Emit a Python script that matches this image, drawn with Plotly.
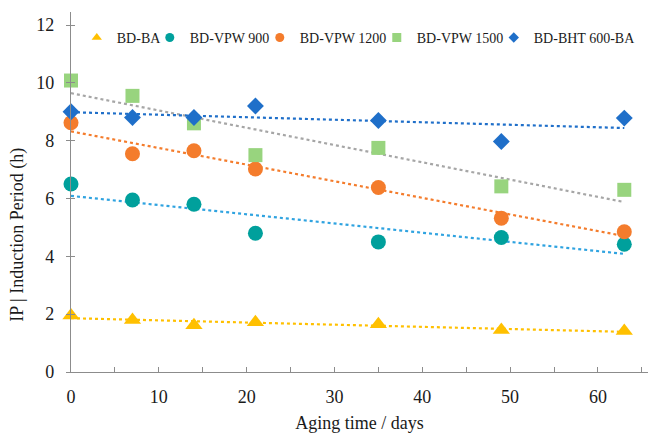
import numpy as np
import plotly.graph_objects as go

days = [0, 7, 14, 21, 35, 49, 63]
series_names = ["BD-BA", "BD-VPW 900", "BD-VPW 1200", "BD-VPW 1500", "BD-BHT 600-BA"]
bd_ba = [1.95, 1.80, 1.62, 1.72, 1.65, 1.45, 1.42]
bd_vpw900 = [6.50, 5.95, 5.80, 4.80, 4.50, 4.65, 4.42]
bd_vpw1200 = [8.62, 7.55, 7.65, 7.02, 6.38, 5.32, 4.85]
bd_vpw1500 = [10.08, 9.55, 8.60, 7.50, 7.75, 6.42, 6.30]
bd_bht600 = [9.00, 8.80, 8.80, 9.20, 8.70, 7.97, 8.78]

x_tickvals = list(range(0, 66, 5))
x_ticktext = [str(v) if v % 10 == 0 else "" for v in x_tickvals]
y_tickvals = [0, 2, 4, 6, 8, 10, 12]

values = [bd_ba, bd_vpw900, bd_vpw1200, bd_vpw1500, bd_bht600]
marker_colors = ["#FFC000", "#00A09C", "#F47C2C", "#98D47E", "#1F6FC9"]
trend_colors = ["#FFC000", "#2FA3E0", "#F47C2C", "#A6A6A6", "#1F6FC9"]
symbols = ["triangle-up", "circle", "circle", "square", "diamond"]
sizes = [15, 15, 15, 14, 13]
legend_sizes = [9, 9, 9, 9, 8]
legend_widths = [28, 65, 72, 72, 104]

FONT = "Liberation Serif"
TXT = "#1a1a1a"

fig = go.Figure()

xs = np.array(days, dtype=float)
for vals, tc in zip(values, trend_colors):
    m, b = np.polyfit(xs, np.array(vals), 1)
    xl = np.array([days[0], days[-1]], dtype=float)
    fig.add_trace(go.Scatter(x=xl, y=m * xl + b, mode="lines",
                             line=dict(color=tc, width=2.2, dash="dot"),
                             showlegend=False, hoverinfo="skip"))

for name, vals, mc, sym, sz in zip(series_names, values, marker_colors, symbols, sizes):
    fig.add_trace(go.Scatter(x=days, y=vals, mode="markers", name=name,
                             marker=dict(color=mc, symbol=sym, size=sz),
                             showlegend=False, cliponaxis=False))

for name, mc, sym, ls, lw in zip(series_names, marker_colors, symbols, legend_sizes, legend_widths):
    fig.add_trace(go.Scatter(x=[None], y=[None], mode="markers", name=name,
                             legendwidth=lw,
                             marker=dict(color=mc, symbol=sym, size=ls)))

# secondary y axis only to give the y ticks a "cross" look
fig.add_trace(go.Scatter(x=[None], y=[None], yaxis="y2", showlegend=False))

axis_common = dict(showgrid=False, zeroline=False, showline=True, linecolor="#8c8c8c",
                   linewidth=1.3, tickcolor="#8c8c8c")

fig.update_layout(
    width=648, height=433,
    margin=dict(l=71, r=0, t=12, b=61),
    paper_bgcolor="white", plot_bgcolor="white",
    font=dict(family=FONT, color=TXT, size=18),
    legend=dict(orientation="h", x=0.01, y=0.928, xanchor="left", yanchor="middle",
                font=dict(family=FONT, size=14, color=TXT),
                itemwidth=30, tracegroupgap=0, bgcolor="rgba(0,0,0,0)"),
    xaxis=dict(range=[0, 65.7], tickvals=x_tickvals, ticktext=x_ticktext,
               ticks="inside", ticklen=5, ticklabelstandoff=8,
               tickfont=dict(family=FONT, size=18, color=TXT),
               title=dict(text="Aging time / days", standoff=12,
                          font=dict(family=FONT, size=18, color=TXT)),
               **axis_common),
    yaxis=dict(range=[0, 12.45], tickvals=y_tickvals,
               ticks="outside", ticklen=4, ticklabelstandoff=8,
               tickfont=dict(family=FONT, size=18, color=TXT),
               **axis_common),
    yaxis2=dict(range=[0, 12.45], tickvals=y_tickvals, overlaying="y", side="left",
                anchor="x", ticks="inside", ticklen=4, showticklabels=False,
                showgrid=False, zeroline=False, showline=False, tickcolor="#8c8c8c"),
    annotations=[dict(text="IP | Induction Period (h)", textangle=-90,
                      xref="paper", yref="paper", x=-0.092, y=0.381,
                      xanchor="center", yanchor="middle", showarrow=False,
                      font=dict(family=FONT, size=18, color=TXT))],
)

fig.write_html("out.html", config={"displayModeBar": False},
               post_script="document.body.style.margin='0';document.body.style.padding='0';")
